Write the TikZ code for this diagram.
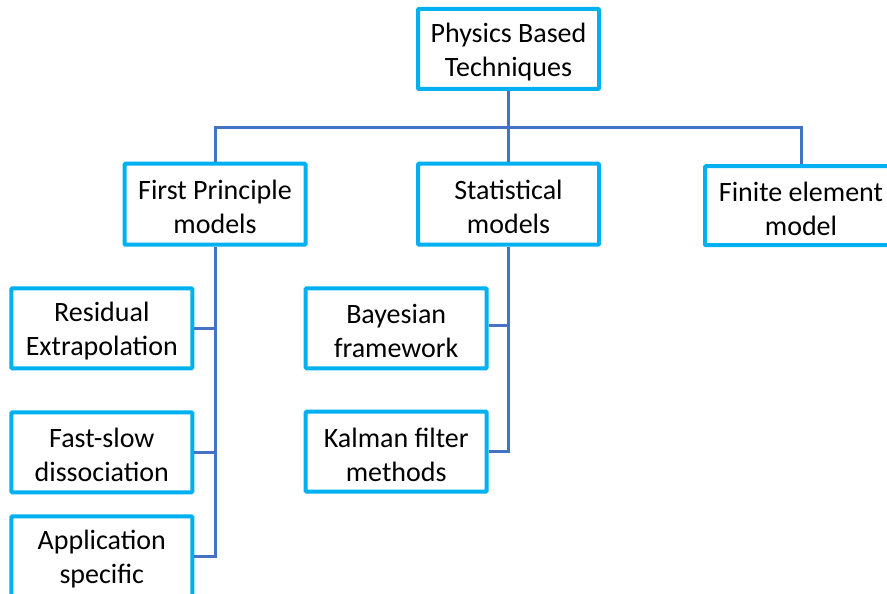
\documentclass[tikz,border=0pt]{standalone}
\usepackage{fontspec}
\setmainfont{Carlito}
\definecolor{boxc}{HTML}{00B0F0}
\definecolor{linec}{HTML}{4472C4}
\tikzset{
  box/.style={draw=boxc, line width=4pt, fill=white, inner sep=0pt,
    rounded corners=1pt},
  txt/.style={align=center, inner sep=0pt, yshift=-3pt, font=\fontsize{28}{34}\selectfont},
  conn/.style={draw=linec, line width=3pt, line join=miter}
}
\begin{document}
\begin{tikzpicture}[x=1pt,y=-1pt]
\useasboundingbox (0,0) rectangle (887,594);
\clip (0,0) rectangle (887,594);
% nodes
\node[box, minimum width=181pt, minimum height=80pt, label={[txt]center:Physics Based\\Techniques}] (phys) at (508.5,49) {};
\node[box, minimum width=181pt, minimum height=81pt, label={[txt]center:First Principle\\models}] (fp) at (215,204.2) {};
\node[box, minimum width=181pt, minimum height=81pt, label={[txt]center:Statistical\\models}] (stat) at (508.5,204.2) {};
\node[box, minimum width=192pt, minimum height=79pt, label={[txt]center:Finite element\\model}] (fe) at (801,205.7) {};
\node[box, minimum width=181pt, minimum height=80pt, label={[txt]center:Residual\\Extrapolation}] (res) at (101.8,328.3) {};
\node[box, minimum width=181pt, minimum height=80pt, label={[txt]center:Fast-slow\\dissociation}] (fast) at (101.8,452.3) {};
\node[box, minimum width=181pt, minimum height=80pt, label={[txt]center:Application\\specific}] (app) at (101.8,556.3) {};
\node[box, minimum width=181pt, minimum height=80pt, label={[txt]center:Bayesian\\framework}] (bay) at (396.2,328.3) {};
\node[box, minimum width=181pt, minimum height=80pt, label={[txt]center:Kalman filter\\methods}] (kal) at (396.2,451.7) {};
\coordinate (bus) at (0,127);
% connectors
\draw[conn] (phys.south) -- (stat.north);
\draw[conn] (fp.north) |- (fe.north |- bus) -- (fe.north);
\draw[conn] (fp.south) |- (app.east);
\draw[conn] (res.east) -- (res.east -| fp.south);
\draw[conn] (fast.east) -- (fast.east -| fp.south);
\draw[conn] (stat.south) |- (kal.east);
\draw[conn] ([yshift=2.5pt]bay.east) -- ([yshift=2.5pt]bay.east -| stat.south);
\end{tikzpicture}
\end{document}
